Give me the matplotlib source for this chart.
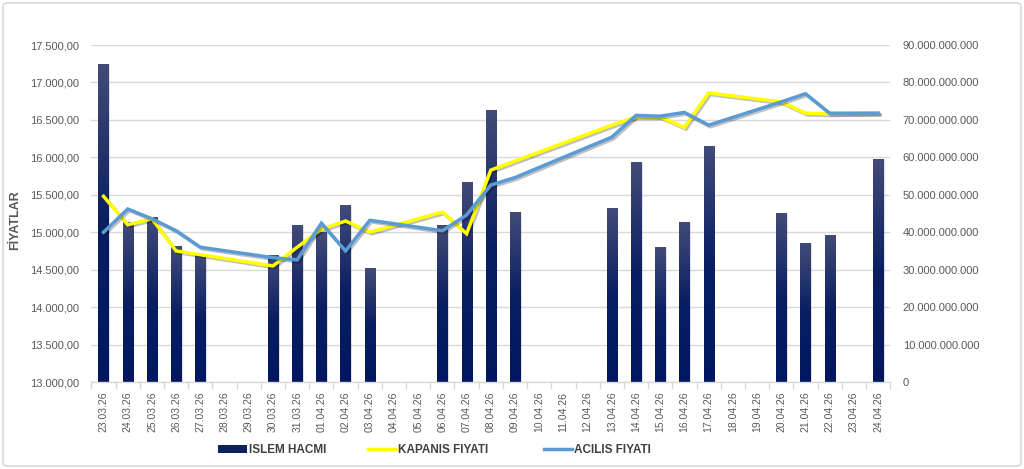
import numpy as np
import matplotlib
matplotlib.use("Agg")
import matplotlib.pyplot as plt
import matplotlib.patheffects as pe
from matplotlib.patches import FancyBboxPatch, Rectangle
from matplotlib.lines import Line2D
from matplotlib.ticker import FuncFormatter, MultipleLocator
from matplotlib.colors import LinearSegmentedColormap

plt.rcParams['font.family'] = ['Liberation Sans', 'DejaVu Sans']

dates = ['23.03.26', '24.03.26', '25.03.26', '26.03.26', '27.03.26', '28.03.26', '29.03.26',
         '30.03.26', '31.03.26', '01.04.26', '02.04.26', '03.04.26', '04.04.26', '05.04.26',
         '06.04.26', '07.04.26', '08.04.26', '09.04.26', '10.04.26', '11.04.26', '12.04.26',
         '13.04.26', '14.04.26', '15.04.26', '16.04.26', '17.04.26', '18.04.26', '19.04.26',
         '20.04.26', '21.04.26', '22.04.26', '23.04.26', '24.04.26']

nan = np.nan
islem_hacmi = [85.0e9, 42.8e9, 44.0e9, 36.4e9, 34.0e9, nan, nan,
               34.0e9, 42.0e9, 40.0e9, 47.3e9, 30.5e9, nan, nan,
               42.0e9, 53.5e9, 72.7e9, 45.5e9, nan, nan, nan,
               46.5e9, 58.8e9, 36.1e9, 42.8e9, 63.1e9, nan, nan,
               45.2e9, 37.2e9, 39.3e9, nan, 59.6e9]

kapanis = [15480, 15100, 15180, 14750, 14700, nan, nan,
           14550, 14800, 15040, 15150, 15000, nan, nan,
           15270, 14980, 15830, 15950, nan, nan, nan,
           16430, 16540, 16540, 16400, 16860, nan, nan,
           16740, 16590, 16580, nan, 16590]

acilis = [15000, 15310, 15180, 15020, 14800, nan, nan,
          14660, 14630, 15120, 14750, 15160, nan, nan,
          15020, 15230, 15630, 15730, nan, nan, nan,
          16270, 16560, 16550, 16600, 16430, nan, nan,
          16740, 16850, 16590, nan, 16590]

label_bar = 'ISLEM HACMI'
label_close = 'KAPANIS FIYATI'
label_open = 'ACILIS FIYATI'
ylabel = 'FİYATLAR'

TXT = '#595959'
GRID = '#d9d9d9'

fig = plt.figure(figsize=(10.24, 4.69), dpi=100)
fig.patch.set_facecolor('white')
border = FancyBboxPatch((0.003, 0.006), 0.994, 0.988, boxstyle='round,pad=0,rounding_size=0.006',
                        transform=fig.transFigure, facecolor='none', edgecolor=GRID, lw=1.2)
fig.patches.append(border)

ax = fig.add_axes([0.0893, 0.1855, 0.78, 0.7185])
x = np.arange(len(dates))

# bars (volume) on the base axes
vol = np.array(islem_hacmi, dtype=float)
bars = ax.bar(x, np.nan_to_num(vol), width=0.42, color='#0b1f5e', zorder=2)
grad = np.linspace(0, 1, 256).reshape(-1, 1)
cmap = LinearSegmentedColormap.from_list('g', ['#001660', '#0a1f62', '#434c78'])
for b, v in zip(bars, vol):
    if np.isnan(v):
        b.set_visible(False)
        continue
    bx, by = b.get_x(), b.get_y()
    w, h = b.get_width(), b.get_height()
    sh = Rectangle((bx + 0.06, 0), w, h - 0.25e9, facecolor='#000000', alpha=0.12, zorder=1.5, lw=0)
    ax.add_patch(sh)
    im = ax.imshow(grad, extent=[bx, bx + w, by, by + h], origin='lower', cmap=cmap,
                   aspect='auto', zorder=2.1, interpolation='bilinear')
    im.set_clip_path(b)
    b.set_facecolor('none')

ax.set_xlim(-0.5, len(dates) - 0.5)
ax.set_ylim(0, 90e9)
ax.grid(axis='y', color=GRID, lw=1, zorder=0)
ax.set_axisbelow(True)
for s in ['top', 'left', 'right']:
    ax.spines[s].set_visible(False)
ax.spines['bottom'].set_color(GRID)
ax.spines['bottom'].set_linewidth(1)

ax.set_xticks(x)
ax.set_xticklabels(dates, rotation=90, fontsize=7.5, color=TXT)
ax.set_xticks(np.arange(-0.5, len(dates), 1), minor=True)
ax.tick_params(axis='x', which='major', length=0, pad=7)
ax.tick_params(axis='x', which='minor', length=5, color=GRID, width=1)

# lines (prices) on the twin axes
ax2 = ax.twinx()

ax.yaxis.tick_right()
ax.yaxis.set_major_locator(MultipleLocator(10e9))
ax.yaxis.set_major_formatter(FuncFormatter(lambda v, p: '0' if v == 0 else f'{int(round(v)):,}'.replace(',', '.')))
ax.tick_params(axis='y', which='both', left=False, right=True, labelleft=False, labelright=True,
               length=0, pad=9, labelsize=8, labelcolor=TXT)

ax2.set_ylim(13000, 17500)
ax2.yaxis.tick_left()
ax2.yaxis.set_label_position('left')
ax2.yaxis.set_major_locator(MultipleLocator(500))

def fmt_price(v, p):
    s = f'{v:,.2f}'
    return s.replace(',', 'X').replace('.', ',').replace('X', '.')
ax2.yaxis.set_major_formatter(FuncFormatter(fmt_price))
ax2.tick_params(axis='y', which='both', left=True, right=False, labelleft=True, labelright=False,
                length=0, pad=9, labelsize=8, labelcolor=TXT)
for s in ['top', 'left', 'right', 'bottom']:
    ax2.spines[s].set_visible(False)
ax2.set_ylabel(ylabel, fontsize=9, color=TXT, fontweight='bold', labelpad=2)
ax2.yaxis.set_label_coords(-0.088, 0.48)

shadow = [pe.SimpleLineShadow(offset=(1.2, -1.2), shadow_color='#000000', alpha=0.25), pe.Normal()]
kp = np.array(kapanis, dtype=float)
ac = np.array(acilis, dtype=float)
m1 = ~np.isnan(kp)
m2 = ~np.isnan(ac)
ax2.plot(x[m1], kp[m1], color='#ffff00', lw=2.5, zorder=3, path_effects=shadow, solid_joinstyle='miter')
ax2.plot(x[m2], ac[m2], color='#5b9bd5', lw=2.5, zorder=4, path_effects=shadow, solid_joinstyle='miter')
ax2.set_xlim(-0.5, len(dates) - 0.5)

# legend
h_bar = Rectangle((0, 0), 1, 1, facecolor='#0d205e', edgecolor='none')
h_close = Line2D([], [], color='#ffff00', lw=2.5)
h_open = Line2D([], [], color='#5b9bd5', lw=2.5)
for h, lab, xpos in [(h_bar, label_bar, 0.203), (h_close, label_close, 0.349), (h_open, label_open, 0.521)]:
    lg = fig.legend([h], [lab], loc='center left', bbox_to_anchor=(xpos, 0.04), frameon=False,
                    handlelength=2.4, handleheight=0.6, handletextpad=0.15,
                    prop={'size': 8.5, 'weight': 'bold'})
    for t in lg.get_texts():
        t.set_color('#404040')

fig.savefig('out.png', dpi=100, facecolor='white')
